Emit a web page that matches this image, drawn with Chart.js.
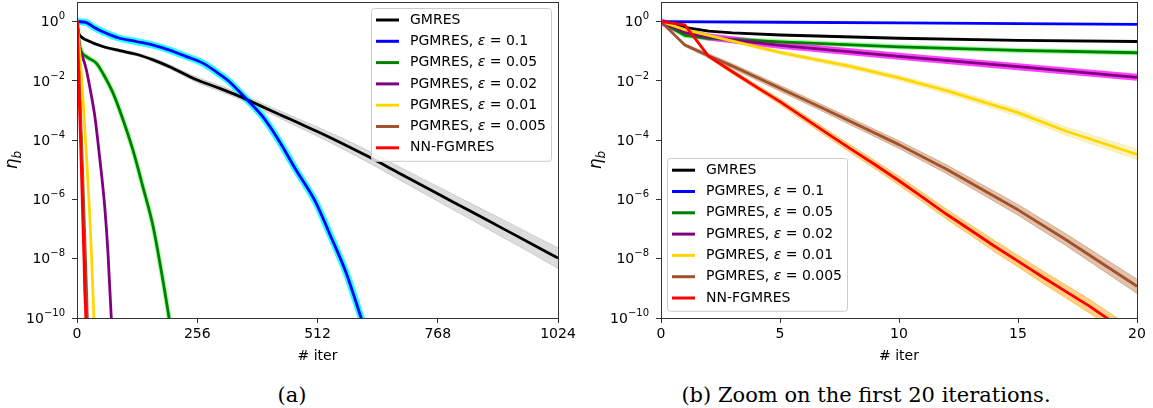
<!DOCTYPE html>
<html>
<head>
<meta charset="utf-8">
<script src="https://cdn.jsdelivr.net/npm/chart.js@4.4.1/dist/chart.umd.min.js"></script>
<style>
    html, body { margin: 0; padding: 0; background: #fff; }
    body { width: 1153px; height: 408px; position: relative; overflow: hidden; }
    canvas { position: absolute; top: 0; }
    #chartA { left: 0; }
    #chartB { left: 580px; }
    .caption { position: absolute; top: 382px; font-family: "DejaVu Serif", serif; font-size: 21px; line-height: 26px; color: #000; text-align: center; white-space: nowrap; }
</style>
</head>
<body>
<canvas id="chartA" width="580" height="372"></canvas>
<canvas id="chartB" width="573" height="372"></canvas>
<div class="caption" style="left:192px; width:200px;">(a)</div>
<div class="caption" style="left:666px; width:400px;">(b) Zoom on the first 20 iterations.</div>

<script>
// Series names and colours (legend order)
const seriesLabels = ['GMRES', 'PGMRES, ε = 0.1', 'PGMRES, ε = 0.05', 'PGMRES, ε = 0.02', 'PGMRES, ε = 0.01', 'PGMRES, ε = 0.005', 'NN-FGMRES'];
const seriesColors = ['#000000', '#0000ff', '#008000', '#800080', '#ffd700', '#a0522d', '#ff0000'];

// Axis ticks (y labels are 10 with these exponents)
const yTickValues = [1, 1e-2, 1e-4, 1e-6, 1e-8, 1e-10];
const yTickExponents = ['0', '−2', '−4', '−6', '−8', '−10'];
const xTicksA = [0, 256, 512, 768, 1024];
const xTicksB = [0, 5, 10, 15, 20];

// Values are log10(eta_b)
// (a) full run
const gmresAX = [0, 3, 9, 20, 55, 91, 126, 162, 197, 233, 256, 304, 339, 374, 410, 445, 473, 516, 544, 616, 688, 768, 831, 903, 975, 1024];
const gmresALog = [0, -0.35, -0.51, -0.62, -0.84, -0.98, -1.10, -1.29, -1.52, -1.80, -1.97, -2.25, -2.47, -2.72, -2.98, -3.23, -3.43, -3.74, -3.95, -4.52, -5.13, -5.81, -6.34, -6.95, -7.56, -7.98];
const gmresASpread = [0, 0.02, 0.03, 0.03, 0.04, 0.05, 0.05, 0.06, 0.07, 0.08, 0.09, 0.1, 0.1, 0.11, 0.12, 0.13, 0.14, 0.16, 0.17, 0.2, 0.22, 0.25, 0.27, 0.3, 0.32, 0.35];
const blueAX = [0, 20, 34, 55, 91, 126, 162, 197, 233, 268, 304, 324, 355, 395, 430, 466, 509, 537, 573, 605, 620];
const blueALog = [0, -0.03, -0.17, -0.34, -0.56, -0.67, -0.79, -0.96, -1.18, -1.40, -1.78, -2.02, -2.52, -3.20, -4.02, -5.0, -6.12, -7.13, -8.48, -10, -10.7];
const greenAX = [0, 6, 20, 41, 55, 77, 98, 119, 140, 162, 179, 196, 205];
const greenALog = [0, -0.84, -1.18, -1.40, -1.74, -2.42, -3.31, -4.33, -5.56, -6.91, -8.37, -10, -11];
const purpleAX = [0, 5, 13, 20, 27, 38, 48, 59, 66, 73, 78];
const purpleALog = [0, -0.8, -1.24, -1.63, -2.19, -3.2, -4.55, -6.24, -7.81, -10, -11];
const yellowAX = [0, 9, 20, 27, 32, 36, 39];
const yellowALog = [0, -1.7, -4.48, -6.5, -8.3, -10, -11];
const brownAX = [0, 10, 20, 22, 24];
const brownALog = [0, -4.15, -8.93, -10, -11];

// (b) first 20 iterations
const gmresBX = [0, 1, 2, 3, 5, 10, 15, 20];
const gmresBLog = [0, -0.19, -0.32, -0.38, -0.45, -0.56, -0.63, -0.67];
const blueBX = [0, 5, 10, 15, 20];
const blueBLog = [0, -0.02, -0.04, -0.07, -0.09];
const greenBX = [0, 1, 2, 5, 10, 15, 20];
const greenBLog = [0, -0.46, -0.56, -0.68, -0.85, -0.97, -1.05];
const purpleBX = [0, 1, 2, 5, 10, 15, 20];
const purpleBLog = [0, -0.36, -0.52, -0.80, -1.17, -1.52, -1.88];
const yellowBX = [0, 1, 2, 5, 8, 10, 12, 15, 17, 20];
const yellowBLog = [0, -0.27, -0.46, -1.04, -1.52, -1.9, -2.33, -3.07, -3.69, -4.48];
const yellowBSpread = [0, 0.03, 0.04, 0.06, 0.08, 0.09, 0.1, 0.12, 0.14, 0.17];
const brownBX = [0, 1, 2, 3, 5, 7, 10, 12, 15, 17, 20];
const brownBLog = [0, -0.79, -1.15, -1.5, -2.25, -3.0, -4.15, -4.98, -6.35, -7.35, -8.93];
const brownBSpread = [0, 0.05, 0.07, 0.08, 0.1, 0.11, 0.13, 0.15, 0.18, 0.2, 0.24];
const redX = [0, 1, 2, 3, 4, 5, 6, 7, 8, 9, 10, 11, 12, 13, 14, 15, 16, 17, 18, 19, 20];
const redLog = [0, -0.11, -1.17, -1.69, -2.2, -2.7, -3.24, -3.78, -4.31, -4.83, -5.37, -5.93, -6.5, -7.03, -7.57, -8.08, -8.6, -9.1, -9.6, -10.15, -10.7];
const redSpread = [0, 0.02, 0.05, 0.07, 0.08, 0.1, 0.11, 0.12, 0.13, 0.14, 0.15, 0.16, 0.17, 0.18, 0.19, 0.2, 0.21, 0.22, 0.23, 0.24, 0.25];

// helpers to turn the arrays into datasets
function pts(xs, logs) {
    return xs.map((x, i) => ({ x: x, y: Math.pow(10, logs[i]) }));
}

function mainLine(k, xs, logs, smooth) {
    return { label: seriesLabels[k], data: pts(xs, logs), borderColor: seriesColors[k], borderWidth: 2.8, order: 10 - k, clip: 0,
             cubicInterpolationMode: smooth ? 'monotone' : 'default' };
}

function halo(xs, logs, color, width, smooth) {
    return { label: '', data: pts(xs, logs), borderColor: color, borderWidth: width, order: 40, clip: 0,
             cubicInterpolationMode: smooth ? 'monotone' : 'default' };
}

// light band of the individual runs (upper line filled down to lower line)
function band(xs, logs, spread, color, smooth) {
    const mode = smooth ? 'monotone' : 'default';
    return [
        { label: '', data: pts(xs, logs.map((l, i) => l + spread[i])), borderColor: color, borderWidth: 1, backgroundColor: color, fill: '+1', order: 50, clip: 0, cubicInterpolationMode: mode },
        { label: '', data: pts(xs, logs.map((l, i) => l - spread[i])), borderColor: color, borderWidth: 1, fill: false, order: 50, clip: 0, cubicInterpolationMode: mode }
    ];
}

const FONT = '"DejaVu Sans"';

// matplotlib-like legend box inside the axes
const boxLegend = {
    id: 'boxLegend',
    afterDatasetsDraw(chart, args, opts) {
        const ctx = chart.ctx, a = chart.chartArea;
        const w = 180, rowH = 21.3, h = 12 + rowH * 6 + 13;
        const x0 = opts.corner === 'topright' ? a.right - 7 - w : a.left + 6;
        const y0 = opts.corner === 'topright' ? a.top + 6 : a.bottom - 7 - h;
        ctx.save();
        ctx.beginPath();
        ctx.roundRect(Math.round(x0) + 0.5, Math.round(y0) + 0.5, w, h, 3);
        ctx.fillStyle = 'rgba(255,255,255,0.8)';
        ctx.fill();
        ctx.strokeStyle = '#cccccc';
        ctx.lineWidth = 1;
        ctx.stroke();
        ctx.textBaseline = 'middle';
        seriesLabels.forEach((lab, i) => {
            const cy = y0 + 12 + i * rowH;
            ctx.strokeStyle = seriesColors[i];
            ctx.lineWidth = 3;
            ctx.beginPath();
            ctx.moveTo(x0 + 5, cy);
            ctx.lineTo(x0 + 28, cy);
            ctx.stroke();
            ctx.fillStyle = '#000';
            let tx = x0 + 39;
            const parts = lab.split('ε');
            ctx.font = '14px ' + FONT;
            ctx.fillText(parts[0], tx, cy);
            if (parts.length > 1) {
                tx += ctx.measureText(parts[0]).width;
                ctx.font = 'italic 14px ' + FONT;
                ctx.fillText('ε', tx, cy);
                tx += ctx.measureText('ε').width;
                ctx.font = '14px ' + FONT;
                ctx.fillText(parts[1], tx, cy);
            }
        });
        ctx.restore();
    }
};

// top/right spines, y tick labels with exponents, axis titles
const frame = {
    id: 'frame',
    afterDraw(chart) {
        const ctx = chart.ctx, a = chart.chartArea, ys = chart.scales.y;
        ctx.save();
        ctx.strokeStyle = '#333';
        ctx.lineWidth = 1;
        ctx.strokeRect(Math.round(a.left) + 0.5, Math.round(a.top) + 0.5, Math.round(a.right - a.left), Math.round(a.bottom - a.top));
        ctx.fillStyle = '#000';
        // y tick labels: 10^k
        ctx.textBaseline = 'middle';
        ctx.textAlign = 'left';
        yTickValues.forEach((v, i) => {
            const y = ys.getPixelForValue(v);
            ctx.font = '10px ' + FONT;
            const ew = ctx.measureText(yTickExponents[i]).width;
            ctx.font = '14px ' + FONT;
            const bw = ctx.measureText('10').width;
            const xr = a.left - 12;
            ctx.fillText('10', xr - ew - bw, y + 1);
            ctx.font = '10px ' + FONT;
            ctx.fillText(yTickExponents[i], xr - ew, y - 5);
        });
        ctx.font = '14px ' + FONT;
        ctx.textAlign = 'center';
        ctx.fillText('# iter', (a.left + a.right) / 2, a.bottom + 38);
        // eta_b, rotated
        ctx.translate(a.left - 62, (a.top + a.bottom) / 2);
        ctx.rotate(-Math.PI / 2);
        ctx.textAlign = 'left';
        ctx.font = 'italic 17px ' + FONT;
        const ew = ctx.measureText('η').width;
        ctx.font = 'italic 12px ' + FONT;
        const bw = ctx.measureText('b').width;
        const sx = -(ew + bw) / 2;
        ctx.font = 'italic 17px ' + FONT;
        ctx.fillText('η', sx, -2);
        ctx.font = 'italic 12px ' + FONT;
        ctx.fillText('b', sx + ew, 3);
        ctx.restore();
    }
};

function makeOptions(xTicks, xMax, yWidth, padRight, corner) {
    return {
        responsive: false,
        animation: false,
        devicePixelRatio: 1,
        events: [],
        layout: { padding: { left: 0, right: padRight, top: 2, bottom: 0 } },
        elements: { point: { radius: 0 }, line: { tension: 0, borderJoinStyle: 'round' } },
        plugins: { legend: { display: false }, tooltip: { enabled: false }, boxLegend: { corner: corner } },
        scales: {
            x: {
                type: 'linear', min: 0, max: xMax,
                afterBuildTicks: s => { s.ticks = xTicks.map(v => ({ value: v })); },
                afterFit: s => { s.height = 54; s.paddingLeft = 0; s.paddingRight = 0; },
                ticks: { callback: v => String(v), color: '#000', font: { family: 'DejaVu Sans', size: 14 }, padding: 3, maxRotation: 0 },
                grid: { drawOnChartArea: false, drawTicks: true, tickLength: 5, tickColor: '#333' },
                border: { display: true, color: '#333', width: 1 }
            },
            y: {
                type: 'logarithmic', min: 1e-10, max: 4.6,
                afterBuildTicks: s => { s.ticks = yTickValues.map(v => ({ value: v })); },
                afterFit: s => { s.width = yWidth; s.paddingTop = 0; s.paddingBottom = 0; },
                ticks: { display: false },
                grid: { drawOnChartArea: false, drawTicks: true, tickLength: 5, tickColor: '#333' },
                border: { display: true, color: '#333', width: 1 }
            }
        }
    };
}

// (a) - dense iterations, drawn as smooth curves
const datasetsA = [
    ...band(gmresAX, gmresALog, gmresASpread, 'rgba(140,140,140,0.3)', true),
    halo(blueAX, blueALog, 'rgba(0,255,255,0.85)', 7, true),
    halo(greenAX, greenALog, 'rgba(0,255,0,0.35)', 5, true),
    mainLine(0, gmresAX, gmresALog, true),
    mainLine(1, blueAX, blueALog, true),
    mainLine(2, greenAX, greenALog, true),
    mainLine(3, purpleAX, purpleALog, true),
    mainLine(4, yellowAX, yellowALog, true),
    mainLine(5, brownAX, brownALog, true),
    mainLine(6, redX, redLog, false)
];

// (b) - one point per iteration
const datasetsB = [
    ...band(yellowBX, yellowBLog, yellowBSpread, 'rgba(240,220,90,0.35)', false),
    ...band(brownBX, brownBLog, brownBSpread, 'rgba(190,120,70,0.45)', false),
    ...band(redX, redLog, redSpread, 'rgba(255,170,30,0.55)', false),
    halo(purpleBX, purpleBLog, 'rgba(255,0,255,0.75)', 7, false),
    halo(greenBX, greenBLog, 'rgba(0,255,0,0.45)', 5, false),
    mainLine(0, gmresBX, gmresBLog, false),
    mainLine(1, blueBX, blueBLog, false),
    mainLine(2, greenBX, greenBLog, false),
    mainLine(3, purpleBX, purpleBLog, false),
    mainLine(4, yellowBX, yellowBLog, false),
    mainLine(5, brownBX, brownBLog, false),
    mainLine(6, redX, redLog, false)
];

const chartA = new Chart(document.getElementById('chartA'), {
    type: 'line',
    data: { datasets: datasetsA },
    options: makeOptions(xTicksA, 1024, 77, 22, 'topright'),
    plugins: [boxLegend, frame]
});

const chartB = new Chart(document.getElementById('chartB'), {
    type: 'line',
    data: { datasets: datasetsB },
    options: makeOptions(xTicksB, 20, 81, 16, 'bottomleft'),
    plugins: [boxLegend, frame]
});
</script>
</body>
</html>
